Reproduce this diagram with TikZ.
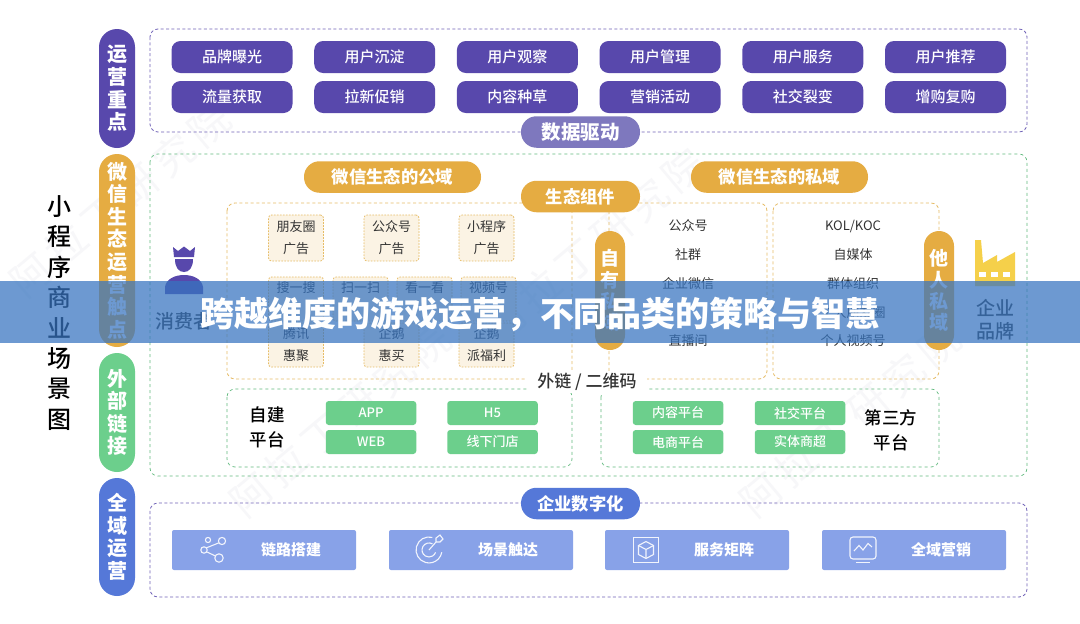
\documentclass[tikz,border=0pt]{standalone}
\usepackage{fontspec}
\setmainfont{Noto Sans CJK SC}
\newfontfamily\cjkmed{Noto Sans CJK SC Medium}
\usepackage{xcolor}
\definecolor{grape}{HTML}{5848AC}
\definecolor{grapesoft}{HTML}{7E78BE}
\definecolor{amber}{HTML}{E5AC42}
\definecolor{mint}{HTML}{6CCF8C}
\definecolor{azure}{HTML}{5578D8}
\definecolor{azuresoft}{HTML}{88A2E8}
\definecolor{cream}{HTML}{FBF3E4}
\definecolor{sand}{HTML}{E6BC66}
\definecolor{inkgray}{HTML}{333333}
\definecolor{bannerblue}{HTML}{3774C0}
\definecolor{sun}{HTML}{F5D04A}
\definecolor{markgray}{HTML}{F7F7F9}

\begin{document}
\begin{tikzpicture}[x=1pt, y=-1pt, line width=0.8pt, inner sep=0pt,
		sidepill/.style={fill=#1, text=white, rounded corners=18pt, minimum width=36pt,
			align=center, font=\fontsize{20}{22.6}\selectfont\bfseries},
		tagpill/.style={fill=#1, text=white, rounded corners=15.5pt, minimum height=31.5pt,
			font=\fontsize{17.3}{20}\selectfont\bfseries},
		sidetag/.style={fill=amber, text=white, rounded corners=15pt, minimum width=30pt,
			minimum height=119pt, align=center, font=\fontsize{19}{21.2}\selectfont\bfseries},
		grapebtn/.style={fill=grape, text=white, rounded corners=9pt, minimum width=121pt,
			minimum height=32pt, font=\fontsize{15}{18}\selectfont\cjkmed},
		mintbtn/.style={fill=mint, text=white, rounded corners=3pt, minimum width=90.5pt,
			minimum height=24pt, font=\fontsize{13}{16}\selectfont\cjkmed},
		azurebar/.style={fill=azuresoft, rounded corners=2pt, minimum width=184pt, minimum height=40pt},
		bartext/.style={text=white, font=\fontsize{15}{18}\selectfont\bfseries},
		creambox/.style={fill=cream, draw=sand, dashed, dash pattern=on 1.6pt off 1.4pt, rounded corners=3pt,
			minimum width=55pt, text=inkgray, align=center, font=\fontsize{13}{22}\selectfont},
		plainitem/.style={text=inkgray, font=\fontsize{13}{16}\selectfont},
		bigword/.style={text=black, align=center, font=\fontsize{17.5}{24.5}\selectfont\cjkmed},
		brandword/.style={text=inkgray, align=center, font=\fontsize{19}{23}\selectfont\cjkmed},
		grapeframe/.style={draw=grape!85, dashed, dash pattern=on 3pt off 2.4pt, rounded corners=8pt},
		mintframe/.style={draw=mint!90!black, dashed, dash pattern=on 3pt off 3pt, line width=0.7pt, rounded corners=8pt},
		sandframe/.style={draw=sand, dashed, dash pattern=on 3pt off 2.6pt, rounded corners=8pt},
		iconline/.style={draw=white!88!azuresoft, line width=1.1pt},
		wmark/.style={text=markgray, rotate=40, font=\fontsize{40}{40}\selectfont}]
	\useasboundingbox (0, 0) rectangle (1080, 624);
	\fill[white] (0, 0) rectangle (1080, 624);

	\foreach \wx/\wy [count=\wi] in {120/200, 594/245, 340/420, 850/420}
		\node[wmark] (mark\wi) at (\wx, \wy) {阿\,拉\,丁\,研\,究\,院};

	\draw[grapeframe] (150, 29) rectangle (1027, 132);
	\draw[mintframe] (150, 154) rectangle (1027, 476);
	\draw[grapeframe] (150, 503) rectangle (1027, 597);

	\draw[sandframe] (227, 203) rectangle (572, 379);
	\draw[sandframe] (609, 203) rectangle (767, 379);
	\draw[sandframe] (773, 203) rectangle (939, 379);
	\draw[mintframe] (227, 389) rectangle (572, 467);
	\draw[mintframe] (601, 389) rectangle (939, 467);

	\node[text=black, align=center, font=\fontsize{24}{30.4}\selectfont\cjkmed] (scene) at (59, 313) {小\\程\\序\\商\\业\\场\\景\\图};

	\node[sidepill=grape, minimum height=119pt] (focus) at (117, 88.5) {运\\营\\重\\点};
	\node[sidepill=amber, minimum height=193pt] (touch) at (117, 250.5) {微\\信\\生\\态\\运\\营\\触\\点};
	\node[sidepill=mint, minimum height=119pt] (link) at (117, 412.5) {外\\部\\链\\接};
	\node[sidepill=azure, minimum height=118pt] (whole) at (117, 537) {全\\域\\运\\营};

	\node[grapebtn] (brand) at (232, 57) {品牌曝光};
	\node[grapebtn, right of=brand, node distance=142.7pt] (settle) {用户沉淀};
	\node[grapebtn, right of=settle, node distance=142.7pt] (watch) {用户观察};
	\node[grapebtn, right of=watch, node distance=142.7pt] (manage) {用户管理};
	\node[grapebtn, right of=manage, node distance=142.7pt] (serve) {用户服务};
	\node[grapebtn, right of=serve, node distance=142.7pt] (refer) {用户推荐};
	\node[grapebtn] (traffic) at (232, 97) {流量获取};
	\node[grapebtn, right of=traffic, node distance=142.7pt] (promo) {拉新促销};
	\node[grapebtn, right of=promo, node distance=142.7pt] (seed) {内容种草};
	\node[grapebtn, right of=seed, node distance=142.7pt] (event) {营销活动};
	\node[grapebtn, right of=event, node distance=142.7pt] (split) {社交裂变};
	\node[grapebtn, right of=split, node distance=142.7pt] (rebuy) {增购复购};

	\node[tagpill=grapesoft, minimum width=119pt] (data) at (580.5, 132) {\fontsize{19.5}{20}\selectfont 数据驱动};
	\node[tagpill=amber, minimum width=177pt] (public) at (392.5, 177) {微信生态的公域};
	\node[tagpill=amber, minimum width=177pt] (private) at (779.5, 177) {微信生态的私域};
	\node[tagpill=amber, minimum width=119pt] (parts) at (580.5, 196.5) {生态组件};
	\node[fill=white, inner xsep=10pt, inner ysep=2pt, text=inkgray, font=\fontsize{17}{20}\selectfont\cjkmed] (qrcode) at (587, 382) {外链 / 二维码};
	\node[tagpill=azure, minimum width=119pt] (digital) at (580.5, 503.5) {企业数字化};

	\node[creambox, minimum height=46pt] (moments) at (296, 238) {朋友圈\\广告};
	\node[creambox, minimum height=46pt] (offacct) at (391.5, 238) {公众号\\广告};
	\node[creambox, minimum height=46pt] (miniapp) at (486.5, 238) {小程序\\广告};

	\node[creambox, minimum height=44pt, text depth=24pt] (search) at (296, 299) {搜一搜};
	\node[creambox, minimum height=44pt, text depth=24pt] (scan) at (360.5, 299) {扫一扫};
	\node[creambox, minimum height=44pt, text depth=24pt] (look) at (424.5, 299) {看一看};
	\node[creambox, minimum height=44pt, text depth=24pt] (video) at (488.5, 299) {视频号};

	\node[creambox, minimum height=44pt] (tencent) at (296, 345) {腾讯\\惠聚};
	\node[creambox, minimum height=44pt] (penguin) at (391.5, 345) {企鹅\\惠买};
	\node[creambox, minimum height=44pt] (welfare) at (486.5, 345) {企鹅\\派福利};

	\node[plainitem] (ownacct) at (688, 226) {公众号};
	\node[plainitem] (group) at (688, 255) {社群};
	\node[plainitem] (wecom) at (688, 284) {企业微信};
	\node[plainitem] (live) at (688, 341) {直播间};

	\node[plainitem] (kol) at (853, 226) {KOL/KOC};
	\node[plainitem] (media) at (853, 255) {自媒体};
	\node[plainitem] (crowd) at (853, 284) {群体组织};
	\node[plainitem] (friend) at (853, 313) {个人朋友圈};
	\node[plainitem] (channel) at (853, 341) {个人视频号};

	\node[sidetag] (own) at (610, 290.5) {自\\有\\私\\域};
	\node[sidetag] (other) at (939, 290.5) {他\\人\\私\\域};

	\fill[grape] (173, 247) -- (178, 251) -- (184, 246.5) -- (190, 251) -- (195, 247) -- (194, 257) -- (174, 257) -- cycle;
	\fill[grape] (175, 259) -- (193, 259) .. controls (193, 268) and (189, 272) .. (184, 272) .. controls (179, 272) and (175, 268) .. (175, 259) -- cycle;
	\fill[grape] (165, 294) -- (165, 287) .. controls (166, 279) and (175, 275) .. (184, 275) .. controls (193, 275) and (202, 279) .. (203, 287) -- (203, 294) -- cycle;
	\node[brandword] (buyer) at (184, 321) {消费者};

	\fill[sun] (975, 240) -- (981, 240) -- (983, 263) -- (997, 255) -- (997, 262) -- (1015, 252) -- (1015, 286) -- (975, 286) -- cycle;
	\fill[white] (979, 272) rectangle (986, 277);
	\fill[white] (991, 272) rectangle (998, 277);
	\fill[white] (1003, 272) rectangle (1010, 277);
	\node[brandword] (firm) at (995, 320) {企业\\品牌};

	\node[bigword] (selfbuilt) at (267, 427.5) {自建\\平台};
	\node[bigword] (third) at (891, 430) {第三方\\平台};

	\node[mintbtn] (app) at (371, 413) {APP};
	\node[mintbtn] (web) at (371, 442) {WEB};
	\node[mintbtn] (hfive) at (492.5, 413) {H5};
	\node[mintbtn] (store) at (492.5, 442) {线下门店};
	\node[mintbtn] (content) at (678, 413) {内容平台};
	\node[mintbtn] (shop) at (678, 442) {电商平台};
	\node[mintbtn] (social) at (800, 413) {社交平台};
	\node[mintbtn] (retail) at (800, 442) {实体商超};

	\node[azurebar] (chain) at (264, 550) {};
	\node[azurebar] (reach) at (481, 550) {};
	\node[azurebar] (matrix) at (697, 550) {};
	\node[azurebar] (market) at (914, 550) {};
	\node[bartext] (chaintext) at (291, 550) {链路搭建};
	\node[bartext] (reachtext) at (508, 550) {场景触达};
	\node[bartext] (matrixtext) at (724, 550) {服务矩阵};
	\node[bartext] (markettext) at (941, 550) {全域营销};

	\draw[iconline] (208, 540) circle (2.6) (222, 541) circle (3.6) (204, 550) circle (3.2) (219, 558) circle (4.2);
	\draw[iconline] (206.5, 547.8) -- (219, 542.8) (207, 552) -- (215.5, 556);

	\draw[iconline] (432.4, 537.4) arc (-75:-350:13);
	\draw[iconline] (432.5, 543.9) arc (-60:-340:7);
	\draw[iconline] (429, 550) -- (436, 542) -- (436, 538) -- (440, 535) -- (443, 539) -- (440, 542) -- (436, 542);

	\draw[iconline] (633.5, 537.5) rectangle (658.5, 562.5);
	\draw[iconline] (646, 541.5) -- (653.5, 545.5) -- (653.5, 554.5) -- (646, 558.5) -- (638.5, 554.5) -- (638.5, 545.5) -- cycle;
	\draw[iconline] (638.5, 545.5) -- (646, 549.5) -- (653.5, 545.5) (646, 549.5) -- (646, 558.5);

	\draw[iconline, rounded corners=3pt] (850, 537) rectangle (876, 559);
	\draw[iconline] (854, 551) -- (859, 545.5) -- (863, 550) -- (868, 543.5) -- (872, 547);
	\draw[iconline] (856, 562.5) -- (870, 562.5);

	\fill[bannerblue, opacity=0.73] (0, 281) rectangle (1080, 343);
	\node[text=white, font=\fontsize{34}{34}\selectfont\bfseries] (headline) at (540, 314) {跨越维度的游戏运营，不同品类的策略与智慧};
\end{tikzpicture}
\end{document}
